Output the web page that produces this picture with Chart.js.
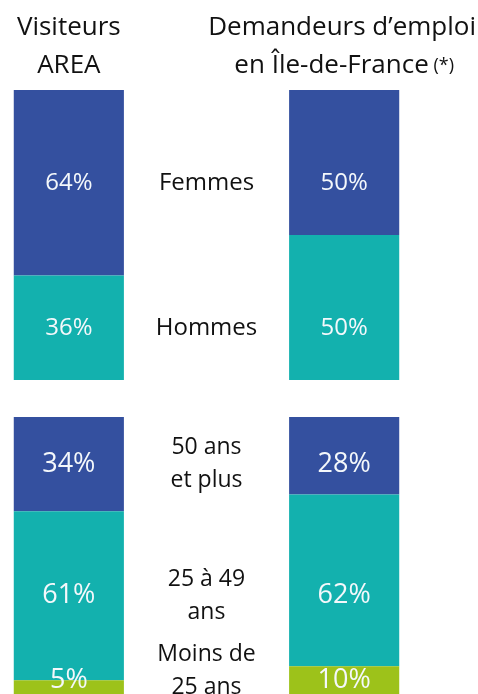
<!DOCTYPE html>
<html lang="fr">
<head>
<meta charset="utf-8">
<title>Visiteurs AREA / Demandeurs d'emploi</title>
<script src="https://cdn.jsdelivr.net/npm/chart.js@4/dist/chart.umd.min.js"></script>
<style>
  html, body { margin: 0; padding: 0; background: #fff; }
  canvas { display: block; }
</style>
</head>
<body>
<canvas id="sexChart" width="478" height="390"></canvas>
<canvas id="ageChart" width="478" height="304"></canvas>
<script>
// ----------------------------
// DATA
// ----------------------------
// 3 columns: left bar, empty middle column (row labels), right bar
const columnTitles = [["Visiteurs", "AREA"], [], ["Demandeurs d’emploi", "en Île-de-France"]];
const footnoteMark = "(*)";

// sex split (bottom -> top of the stack)
const sexRows = ["Hommes", "Femmes"];
const hommes = [36, null, 50];
const femmes = [64, null, 50];

// age split (bottom -> top of the stack)
const ageRows = ["Moins de\n25 ans", "25 à 49\nans", "50 ans\net plus"];
const moins25 = [5, null, 10];
const de25a49 = [61, null, 62];
const plus50 = [34, null, 28];

// ----------------------------
// STYLE
// ----------------------------
const NAVY = "#34509f";
const TEAL = "#13b1ae";
const LIME = "#9dc21a";
const FONT = "'Open Sans', 'DejaVu Sans', sans-serif";

// ----------------------------
// PLUGINS
// ----------------------------
// percent labels + row labels in the middle column
const rowLabelsPlugin = {
  id: "rowLabels",
  afterDatasetsDraw(chart, args, opts) {
    const ctx = chart.ctx;
    const x = chart.scales.x;
    const bottom = chart.chartArea.bottom;
    ctx.save();
    ctx.textAlign = "center";
    ctx.textBaseline = "middle";
    chart.data.datasets.forEach((ds, d) => {
      const meta = chart.getDatasetMeta(d);
      const left = meta.data[0];
      const rowY = (left.y + left.base) / 2;

      // values inside the bars
      ctx.fillStyle = "#f4f8fb";
      ctx.font = opts.valueFont;
      const vy = Math.min(rowY, bottom - 14);
      meta.data.forEach((el, j) => {
        if (ds.data[j] == null) return;
        ctx.fillText(ds.data[j] + "%", el.x, vy);
      });

      // row label in the middle column
      const lines = opts.rows[d].split("\n");
      const lh = opts.lineHeight;
      const cy = Math.min(rowY, bottom - 7 - (lines.length - 1) * lh / 2);
      ctx.fillStyle = "#111";
      ctx.font = opts.rowFont;
      lines.forEach((ln, k) => {
        ctx.fillText(ln, x.getPixelForValue(1), cy + (k - (lines.length - 1) / 2) * lh);
      });
    });
    ctx.restore();
  }
};

// column titles above the top chart
const titlesPlugin = {
  id: "columnTitles",
  afterDraw(chart, args, opts) {
    if (!opts.show) return;
    const ctx = chart.ctx;
    const x = chart.scales.x;
    ctx.save();
    ctx.fillStyle = "#111";
    ctx.textBaseline = "alphabetic";
    ctx.textAlign = "left";
    columnTitles.forEach((lines, i) => {
      lines.forEach((ln, k) => {
        const last = i === columnTitles.length - 1 && k === lines.length - 1;
        ctx.font = "26px " + FONT;
        const mainW = ctx.measureText(ln).width;
        ctx.font = "18px " + FONT;
        const noteW = last ? ctx.measureText(" " + footnoteMark).width : 0;
        const w = mainW + noteW;
        let sx = x.getPixelForValue(i) - w / 2;
        sx = Math.min(sx, chart.width - 2 - w);
        const by = 35 + k * 38;
        ctx.font = "26px " + FONT;
        ctx.fillText(ln, sx, by);
        if (last) {
          ctx.font = "18px " + FONT;
          ctx.fillText(" " + footnoteMark, sx + mainW, by - 2);
        }
      });
    });
    ctx.restore();
  }
};

// ----------------------------
// CHART BUILDER
// ----------------------------
function makeChart(id, datasets, rows, cfg) {
  return new Chart(document.getElementById(id), {
    type: "bar",
    data: { labels: ["", "", ""], datasets },
    options: {
      responsive: false,
      animation: false,
      devicePixelRatio: 1,
      layout: { padding: { top: cfg.top, bottom: cfg.bottom, left: 0, right: 65 } },
      datasets: { bar: { barPercentage: 0.8, categoryPercentage: 1, borderWidth: 0 } },
      scales: {
        x: { stacked: true, display: false, offset: true },
        y: { stacked: true, display: false, min: 0, max: 100 }
      },
      plugins: {
        legend: { display: false },
        tooltip: { enabled: false },
        rowLabels: {
          rows,
          valueFont: cfg.valueFont,
          rowFont: cfg.rowFont,
          lineHeight: cfg.lineHeight
        },
        columnTitles: { show: cfg.titles }
      }
    },
    plugins: [rowLabelsPlugin, titlesPlugin]
  });
}

// ----------------------------
// INIT
// ----------------------------
makeChart("sexChart", [
  { label: sexRows[0], data: hommes, backgroundColor: TEAL },
  { label: sexRows[1], data: femmes, backgroundColor: NAVY }
], sexRows, {
  top: 90, bottom: 10, titles: true,
  valueFont: "24px " + FONT, rowFont: "24px " + FONT, lineHeight: 33
});

makeChart("ageChart", [
  { label: ageRows[0], data: moins25, backgroundColor: LIME },
  { label: ageRows[1], data: de25a49, backgroundColor: TEAL },
  { label: ageRows[2], data: plus50, backgroundColor: NAVY }
], ageRows, {
  top: 27, bottom: 0, titles: false,
  valueFont: "27px " + FONT, rowFont: "23px " + FONT, lineHeight: 33
});
</script>
</body>
</html>
